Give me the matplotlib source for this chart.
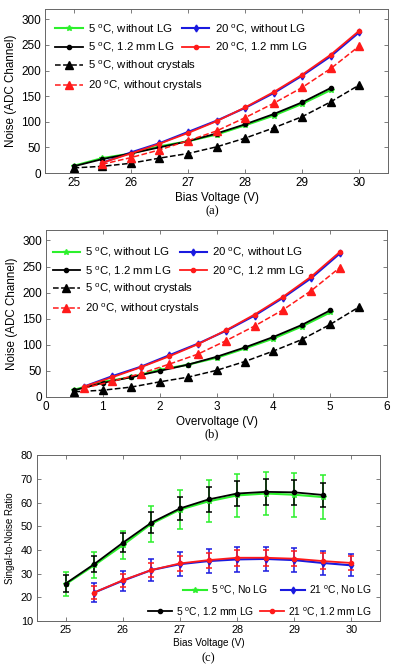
import matplotlib
matplotlib.use("Agg")
import matplotlib.pyplot as plt
import numpy as np

plt.rcParams['font.family'] = ['Liberation Sans', 'DejaVu Sans']
plt.rcParams['mathtext.fontset'] = 'custom'
plt.rcParams['mathtext.rm'] = 'Liberation Sans'
plt.rcParams['mathtext.it'] = 'Liberation Sans'

# ---- data: noise vs bias voltage ----
bias_5 = [25, 25.5, 26, 26.5, 27, 27.5, 28, 28.5, 29, 29.5]
bias_20 = [25.5, 26, 26.5, 27, 27.5, 28, 28.5, 29, 29.5, 30]
bias_5_nc = [25, 25.5, 26, 26.5, 27, 27.5, 28, 28.5, 29, 29.5, 30]

noise_5_nolg = [14, 29, 38, 52, 62, 75, 93, 112, 135, 162]
noise_5_lg = [13, 27, 38, 50, 62, 77, 95, 115, 138, 166]
noise_20_nolg = [20, 40, 58, 80, 102, 127, 156, 190, 228, 275]
noise_20_lg = [20, 38, 57, 78, 101, 128, 158, 192, 231, 278]
noise_5_nocrys = [10, 13, 19, 29, 38, 51, 68, 88, 110, 139, 172]
noise_20_nocrys = [17, 30, 45, 63, 82, 108, 136, 167, 204, 248]

# breakdown voltages used for overvoltage axis
vbd_5 = 24.5
vbd_20 = 24.83

# ---- data: SNR vs bias voltage ----
snr_5_nolg = [25.5, 33.5, 42, 51, 57, 60.5, 63, 63.8, 63.3, 62.3]
err_5_nolg = [5, 5.5, 6, 7.5, 8.3, 8.8, 9, 9.2, 9.2, 9.3]
snr_5_lg = [25.8, 34, 43, 51.5, 57.5, 61.3, 63.8, 64.5, 64.3, 63.2]
err_5_lg = [3.6, 3.5, 4, 4.5, 4.8, 5.2, 5.2, 5.5, 5.3, 5.2]
snr_21_nolg = [22, 27, 31.5, 34, 35.3, 36, 36.2, 35.7, 34.5, 33.5]
err_21_nolg = [4, 4.3, 4.7, 5, 5, 5.2, 5.2, 5.2, 5, 4.7]
snr_21_lg = [22, 27.2, 31.5, 34.3, 35.7, 36.7, 36.7, 36.3, 35.3, 34.5]
err_21_lg = [2.7, 2.8, 3, 3.2, 3.2, 3.3, 3.3, 3.2, 3.2, 3]

GREEN = '#2cf02c'
BLUE = '#1a1adf'
RED = '#ff1a1a'


def deg(t, rest):
    return t + r' $^{\mathrm{o}}$C, ' + rest


def style_axes(ax, fs):
    for s in ax.spines.values():
        s.set_color('#666666')
        s.set_linewidth(0.7)
    ax.tick_params(direction='in', top=True, right=True, labelsize=fs,
                   color='#666666', length=3, width=0.6, pad=3)


def noise_panel(ax, x5, x20, x5nc, xlim, xticks, xlabel, leg_x, leg_y1, leg_y2):
    l1, = ax.plot(x5, noise_5_nolg, '-*', color=GREEN, lw=1.5, ms=4)
    l3, = ax.plot(x20, noise_20_nolg, '-d', color=BLUE, lw=1.5, ms=3.5)
    l2, = ax.plot(x5, noise_5_lg, '-o', color='k', lw=1.3, ms=3)
    l4, = ax.plot(x20, noise_20_lg, '-o', color=RED, lw=1.3, ms=3)
    l5, = ax.plot(x5nc, noise_5_nocrys, '--^', color='k', lw=1.1, ms=6)
    l6, = ax.plot(x20, noise_20_nocrys, '--^', color=RED, lw=1.1, ms=6)
    ax.set_xlim(*xlim)
    ax.set_ylim(0, 320)
    ax.set_xticks(xticks)
    ax.set_yticks(np.arange(0, 301, 50))
    ax.set_xlabel(xlabel, fontsize=8.4, labelpad=2)
    ax.set_ylabel('Noise (ADC Channel)', fontsize=8.4, labelpad=3)
    style_axes(ax, 8.5)
    lk = dict(frameon=False, fontsize=8.2, borderpad=0, borderaxespad=0,
              handlelength=2.4, handletextpad=0.45, labelspacing=0.45)
    leg1 = ax.legend([l1, l2, l3, l4],
                     [deg('5', 'without LG'), deg('5', '1.2 mm LG'),
                      deg('20', 'without LG'), deg('20', '1.2 mm LG')],
                     ncol=2, loc='upper left', bbox_to_anchor=(leg_x, leg_y1),
                     columnspacing=0.7, **lk)
    ax.add_artist(leg1)
    ax.legend([l5, l6], [deg('5', 'without crystals'), deg('20', 'without crystals')],
              loc='upper left', bbox_to_anchor=(leg_x, leg_y2), **lk)


fig = plt.figure(figsize=(4.0, 6.69), dpi=100)

# (a) noise vs bias voltage
ax1 = fig.add_axes([0.1125, 0.7414, 0.8575, 0.2451])
noise_panel(ax1, bias_5, bias_20, bias_5_nc, (24.5, 30.5), range(25, 31),
            'Bias Voltage (V)', 0.03, 0.92, 0.695)

# (b) noise vs overvoltage
ov_5 = [b - vbd_5 for b in bias_5]
ov_20 = [b - vbd_20 for b in bias_20]
ov_5_nc = [b - vbd_5 for b in bias_5_nc]
ax2 = fig.add_axes([0.115, 0.4066, 0.8525, 0.2496])
noise_panel(ax2, ov_5, ov_20, ov_5_nc, (0, 6), range(0, 7),
            'Overvoltage (V)', 0.02, 0.905, 0.69)

# (c) SNR vs bias voltage
ax3 = fig.add_axes([0.0925, 0.0717, 0.8575, 0.248])
ek = dict(capsize=2.5, elinewidth=1.1, capthick=1.1)
h1 = ax3.errorbar(bias_5, snr_5_nolg, yerr=err_5_nolg, fmt='-*', color=GREEN,
                  lw=1.5, ms=4, **ek)
h2 = ax3.errorbar(bias_20, snr_21_nolg, yerr=err_21_nolg, fmt='-d', color=BLUE,
                  lw=1.5, ms=3.5, **ek)
h3 = ax3.errorbar(bias_5, snr_5_lg, yerr=err_5_lg, fmt='-o', color='k',
                  lw=1.3, ms=3, **ek)
h4 = ax3.errorbar(bias_20, snr_21_lg, yerr=err_21_lg, fmt='-o', color=RED,
                  lw=1.3, ms=3, **ek)
ax3.set_xlim(24.5, 30.5)
ax3.set_ylim(10, 80)
ax3.set_xticks(range(25, 31))
ax3.set_yticks(range(10, 81, 10))
ax3.set_xlabel('Bias Voltage (V)', fontsize=7.2, labelpad=2)
ax3.set_ylabel('Singal-to-Noise Ratio', fontsize=7.0, labelpad=4)
style_axes(ax3, 7.8)
ck = dict(ncol=2, loc='lower right', frameon=False, fontsize=7.4, borderpad=0,
          borderaxespad=0, handlelength=2.4, handletextpad=0.4)
lega = ax3.legend([h1[0], h2[0]], [deg('5', 'No LG'), deg('21', 'No LG')],
                  bbox_to_anchor=(0.977, 0.145), columnspacing=1.2, **ck)
ax3.add_artist(lega)
ax3.legend([h3[0], h4[0]], [deg('5', '1.2 mm LG'), deg('21', '1.2 mm LG')],
           bbox_to_anchor=(0.977, 0.015), columnspacing=0.5, **ck)

# captions
cap = dict(ha='center', va='center', fontsize=9, family='Liberation Serif')
fig.text(0.53, 1 - 211 / 669, '(a)', **cap)
fig.text(0.53, 1 - 434 / 669, '(b)', **cap)
fig.text(0.52, 1 - 658 / 669, '(c)', **cap)

fig.savefig('out.png', dpi=100)
